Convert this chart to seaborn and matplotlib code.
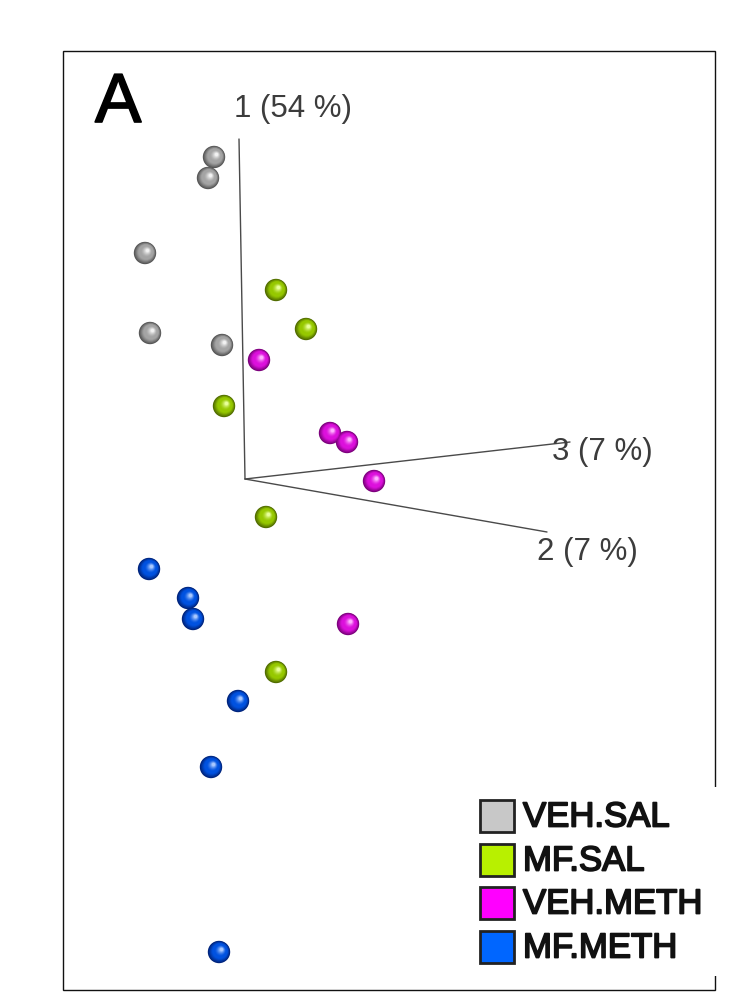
import numpy as np
import pandas as pd
import matplotlib
matplotlib.use("Agg")
import matplotlib.pyplot as plt
import matplotlib.patheffects as pe
from matplotlib.colors import to_rgb
from matplotlib.patches import Rectangle
import seaborn as sns

sns.set_theme(style="white")
plt.rcParams["font.family"] = ["Liberation Sans", "DejaVu Sans"]

# Projected PCA scores (screen plane of the 3-D view)
groups = ["VEH.SAL", "MF.SAL", "VEH.METH", "MF.METH"]
veh_sal_x = [214, 208, 145, 150, 222]
veh_sal_y = [158, 179, 254, 334, 346]
mf_sal_x = [276, 306, 224, 266, 276]
mf_sal_y = [291, 330, 407, 518, 673]
veh_meth_x = [259, 330, 347, 374, 348]
veh_meth_y = [361, 434, 443, 482, 625]
mf_meth_x = [149, 188, 193, 238, 211, 219]
mf_meth_y = [570, 599, 620, 702, 768, 953]

# PC axes: origin and end points of the three component axes
axis_origin = (245, 480)
axis_ends = {"1 (54 %)": (239, 140), "3 (7 %)": (570, 443), "2 (7 %)": (547, 533)}
axis_label_pos = {"1 (54 %)": (234, 117), "3 (7 %)": (552, 460), "2 (7 %)": (537, 560)}

legend_colors = ["#c8c8c8", "#b8f000", "#ff00ff", "#0066ff"]
sphere_shades = {
    "VEH.SAL": ("#555555", "#a4a4a4", "#f2f2f2"),
    "MF.SAL": ("#4f6a00", "#96c800", "#e8ff9a"),
    "VEH.METH": ("#7a007a", "#dc10dc", "#ffb0ff"),
    "MF.METH": ("#00237a", "#0052e0", "#a8c8ff"),
}

df = pd.concat([
    pd.DataFrame({"x": veh_sal_x, "y": veh_sal_y, "group": "VEH.SAL"}),
    pd.DataFrame({"x": mf_sal_x, "y": mf_sal_y, "group": "MF.SAL"}),
    pd.DataFrame({"x": veh_meth_x, "y": veh_meth_y, "group": "VEH.METH"}),
    pd.DataFrame({"x": mf_meth_x, "y": mf_meth_y, "group": "MF.METH"}),
], ignore_index=True)

fig = plt.figure(figsize=(7.39, 10.04), dpi=100)
ax = fig.add_axes([0, 0, 1, 1])
ax.set_xlim(0, 739)
ax.set_ylim(1004, 0)
ax.axis("off")

# outer frame
ax.add_patch(Rectangle((63, 52), 652, 939, fill=False, edgecolor="#111111", lw=1.0, zorder=1))

# component axes
ox, oy = axis_origin
for lab, (ex, ey) in axis_ends.items():
    ax.plot([ox, ex], [oy, ey], color="#4a4a4a", lw=1.0, zorder=2)
for lab, (lx, ly) in axis_label_pos.items():
    ax.text(lx, ly, lab, fontsize=22.5, color="#3c3c3c", ha="left", va="baseline", zorder=6)

ax.text(95, 123, "A", fontsize=50, color="black", ha="left", va="baseline", zorder=6,
        path_effects=[pe.withStroke(linewidth=1.2, foreground="black")])


def mix(c1, c2, t):
    a, b = np.array(to_rgb(c1)), np.array(to_rgb(c2))
    return tuple(a + (b - a) * t)


# shaded spheres: concentric layers from dark rim to bright highlight
base_size = 260
n_layers = 14
for k in range(n_layers):
    t = k / (n_layers - 1)
    if t < 0.55:
        pal = {g: mix(sphere_shades[g][0], sphere_shades[g][1], min(1, t / 0.35)) for g in groups}
    else:
        pal = {g: mix(sphere_shades[g][1], sphere_shades[g][2], ((t - 0.55) / 0.45) ** 1.5) for g in groups}
    size = base_size * (1 - 0.85 * t) ** 2
    layer = df.assign(x=df["x"] + 2.5 * t, y=df["y"] - 2.5 * t)
    sns.scatterplot(data=layer, x="x", y="y", hue="group", palette=pal, s=size,
                    linewidth=0, legend=False, ax=ax, zorder=3 + t)

ax.set_xlabel("")
ax.set_ylabel("")
ax.set_xlim(0, 739)
ax.set_ylim(1004, 0)

# legend panel
ax.add_patch(Rectangle((470, 788), 266, 189, facecolor="white", edgecolor="none", zorder=7))
legend_y = [817, 861, 904, 948]
for g, c, yy in zip(groups, legend_colors, legend_y):
    ax.add_patch(Rectangle((480, yy - 16), 34, 32, facecolor=c, edgecolor="#222222", lw=2.0, zorder=8))
    ax.text(523, yy + 1, g, fontsize=25, color="#111111", ha="left", va="center", zorder=8,
            path_effects=[pe.withStroke(linewidth=1.3, foreground="#111111")])

fig.savefig("out.png", dpi=100, facecolor="white")
